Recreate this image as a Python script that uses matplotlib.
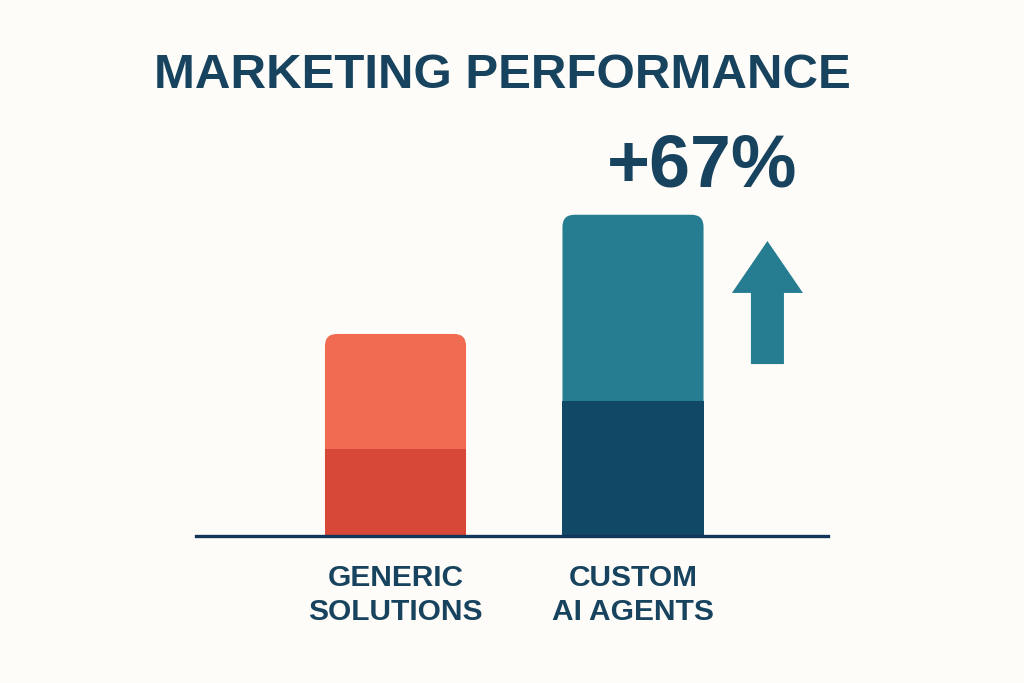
import matplotlib
matplotlib.use("Agg")
import matplotlib.pyplot as plt
from matplotlib.patches import FancyBboxPatch, FancyArrow

# ---- data ----
categories = ["GENERIC\nSOLUTIONS", "CUSTOM\nAI AGENTS"]
base_values = [43, 67]      # lower (dark) segment
top_values = [57, 92]       # upper (light) segment
change_label = "+67%"
title = "MARKETING PERFORMANCE"

# ---- style ----
bg = "#FDFCF8"
navy = "#17435F"
light_colors = ["#F06B51", "#267D91"]
dark_colors = ["#D74839", "#114866"]
arrow_color = "#267D91"
font = ["Liberation Sans", "DejaVu Sans"]

fig = plt.figure(figsize=(10.24, 6.83), dpi=100, facecolor=bg)
ax = fig.add_axes([196 / 1024, 1 - 536 / 683, 632 / 1024, 436 / 683])
ax.set_facecolor(bg)

x = list(range(len(categories)))
width = 0.594
ax.set_xlim(-0.84, 1.821)
ax.set_ylim(0, 215.8)

totals = [b + t for b, t in zip(base_values, top_values)]

# compute data units per pixel for rounded corners
fig.canvas.draw()
p0 = ax.transData.transform((0, 0))
p1 = ax.transData.transform((1, 1))
px_per_x = p1[0] - p0[0]
px_per_y = p1[1] - p0[1]
radius_px = 12
aspect = px_per_x / px_per_y

# full-height rounded bars (light) drawn behind, using bar geometry
light_bars = ax.bar(x, totals, width=width, color="none", zorder=1)
for rect, c in zip(light_bars, light_colors):
    fb = FancyBboxPatch((rect.get_x(), rect.get_y()), rect.get_width(), rect.get_height(),
                        boxstyle=f"round,pad=0,rounding_size={radius_px / px_per_x}",
                        mutation_aspect=aspect, facecolor=c, edgecolor="none", zorder=2)
    ax.add_patch(fb)
    rect.remove()

# dark base segments
ax.bar(x, base_values, width=width, color=dark_colors, zorder=3)

# baseline
ax.axhline(0, color="#12345A", linewidth=2.4, zorder=4, clip_on=False)

# arrow
arrow_x = 1.566
arrow_bottom = 85.1
arrow_len = 146 - 85.1
ax.add_patch(FancyArrow(arrow_x, arrow_bottom, 0, arrow_len, width=0.139,
                        head_width=0.299, head_length=25.7,
                        length_includes_head=True, color=arrow_color,
                        linewidth=0, zorder=3))

# tick labels
ax.set_xticks(x)
ax.set_xticklabels(categories, fontsize=21.5, fontweight="bold", color=navy,
                   family=font, linespacing=1.27)
ax.tick_params(axis="x", length=0, pad=20)
ax.set_yticks([])
for s in ax.spines.values():
    s.set_visible(False)

fig.text(502 / 1024, 1 - 76 / 683, title, ha="center", va="center",
         fontsize=35.5, fontweight="bold", color=navy, family=font)
fig.text(702 / 1024, 1 - 167 / 683, change_label, ha="center", va="center",
         fontsize=53, fontweight="bold", color=navy, family=font)

fig.savefig("out.png", dpi=100, facecolor=bg)
